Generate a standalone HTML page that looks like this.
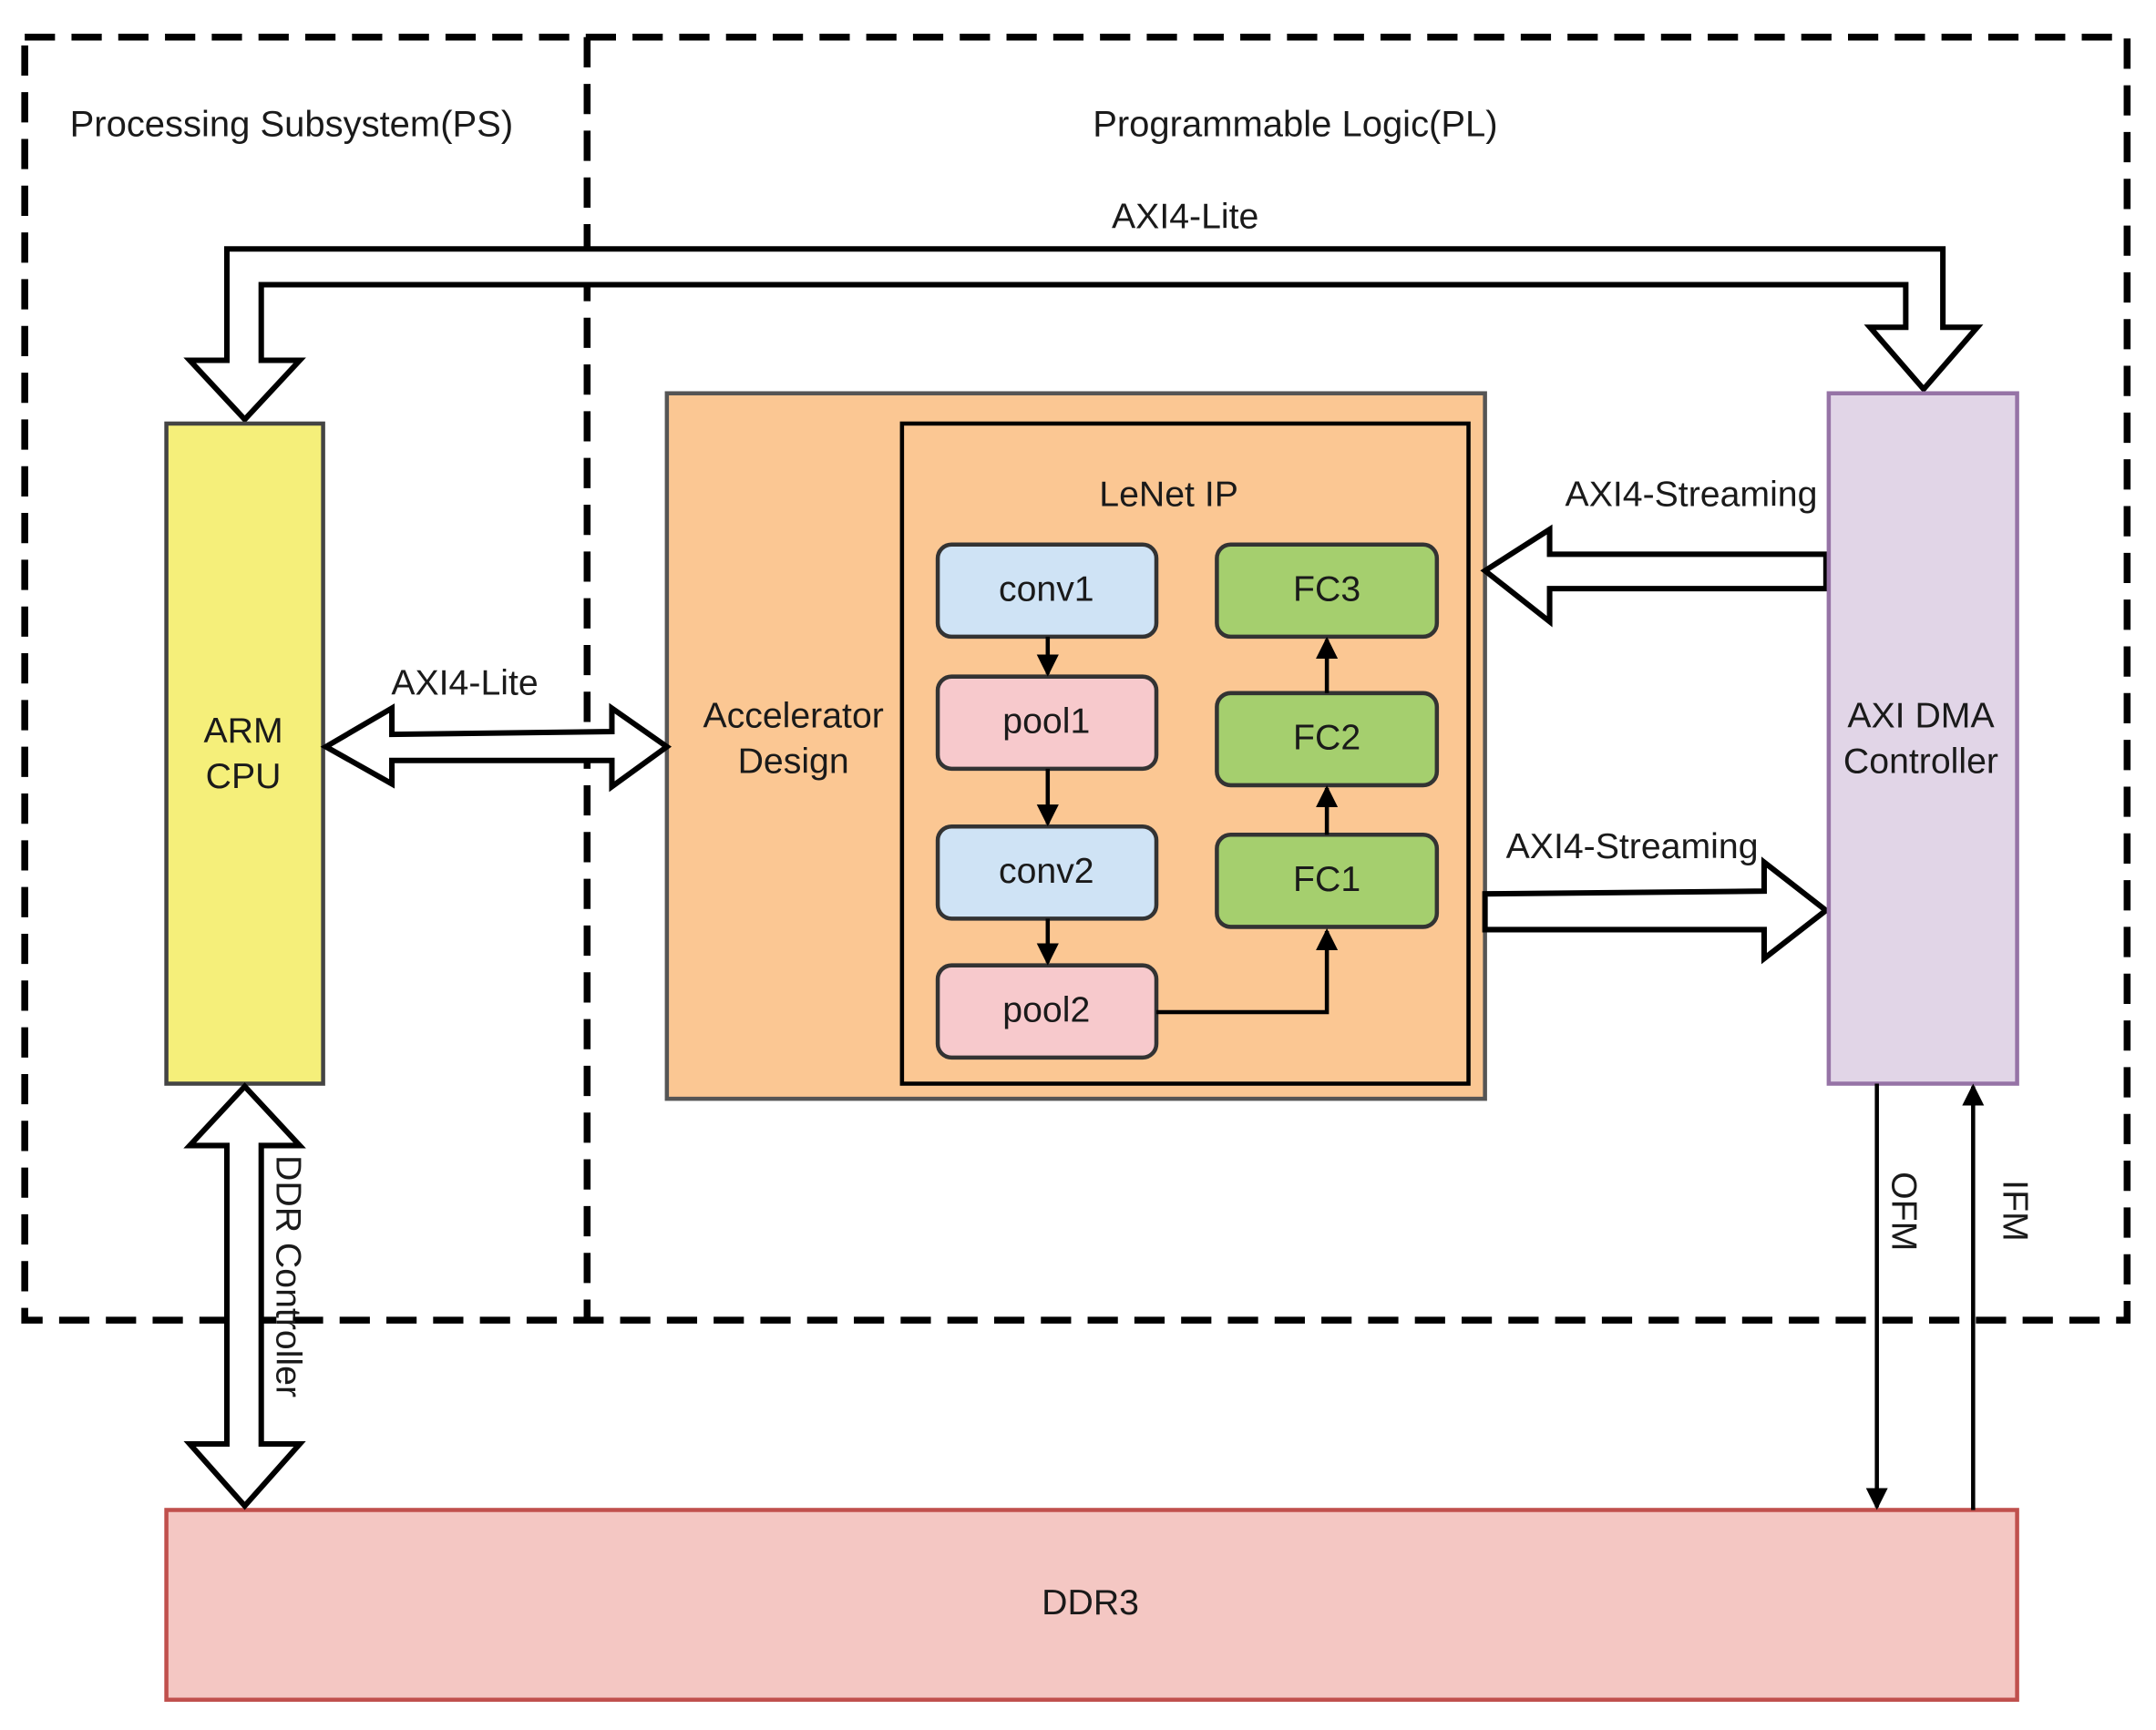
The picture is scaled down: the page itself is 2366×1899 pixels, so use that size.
<!DOCTYPE html>
<html><head><meta charset="utf-8"><style>
html,body{margin:0;padding:0;background:#fff;}
svg{display:block;}
text{font-family:"Liberation Sans",sans-serif;fill:#1a1a1a;}
</style></head><body>
<svg width="2366" height="1899" viewBox="0 0 1568 1258" preserveAspectRatio="none" xmlns="http://www.w3.org/2000/svg">
<defs>
<marker id="ah2" markerWidth="16" markerHeight="16" refX="14" refY="8" orient="auto" markerUnits="userSpaceOnUse">
<path d="M0,0 L16,8 L0,16 Z" fill="#000"/>
</marker>
</defs>
<rect x="18" y="27" width="1529" height="933" fill="none" stroke="#000" stroke-width="5" stroke-dasharray="22,12"/>
<line x1="427" y1="27" x2="427" y2="960" stroke="#000" stroke-width="5" stroke-dasharray="22,12"/>
<text x="212" y="99" font-size="26.5" text-anchor="middle">Processing Subsystem(PS)</text>
<text x="942" y="99" font-size="26.5" text-anchor="middle">Programmable Logic(PL)</text>
<text x="862" y="166" font-size="26" text-anchor="middle">AXI4-Lite</text>
<polygon points="165,262 138,262 178,305 218,262 190,262 190,207 1386,207 1386,238 1360,238 1399,283 1438,238 1413,238 1413,181 165,181" fill="#fff" stroke="#000" stroke-width="4"/>
<rect x="121" y="308" width="114" height="480" fill="#f5ef7a" stroke="#444" stroke-width="3"/>
<text x="177" y="540" font-size="26" text-anchor="middle">ARM</text>
<text x="177" y="573" font-size="26" text-anchor="middle">CPU</text>
<rect x="485" y="286" width="595" height="513" fill="#fbc793" stroke="#555" stroke-width="3"/>
<rect x="656" y="308" width="412" height="480" fill="none" stroke="#000" stroke-width="3"/>
<text x="850" y="368" font-size="26" text-anchor="middle">LeNet IP</text>
<text x="577" y="529" font-size="26" text-anchor="middle">Accelerator</text>
<text x="577" y="562" font-size="26" text-anchor="middle">Design</text>
<g stroke="#333" stroke-width="3">
<rect x="682" y="396" width="159" height="67" rx="10" fill="#cfe3f5"/>
<rect x="682" y="492" width="159" height="67" rx="10" fill="#f7c9cc"/>
<rect x="682" y="601" width="159" height="67" rx="10" fill="#cfe3f5"/>
<rect x="682" y="702" width="159" height="67" rx="10" fill="#f7c9cc"/>
<rect x="885" y="396" width="160" height="67" rx="10" fill="#a5cf6e"/>
<rect x="885" y="504" width="160" height="67" rx="10" fill="#a5cf6e"/>
<rect x="885" y="607" width="160" height="67" rx="10" fill="#a5cf6e"/>
</g>
<g font-size="26" text-anchor="middle">
<text x="761" y="437">conv1</text>
<text x="761" y="533">pool1</text>
<text x="761" y="642">conv2</text>
<text x="761" y="743">pool2</text>
<text x="965" y="437">FC3</text>
<text x="965" y="545">FC2</text>
<text x="965" y="648">FC1</text>
</g>
<g stroke="#000" stroke-width="3" fill="none">
<line x1="762" y1="463" x2="762" y2="490" marker-end="url(#ah2)"/>
<line x1="762" y1="559" x2="762" y2="599" marker-end="url(#ah2)"/>
<line x1="762" y1="668" x2="762" y2="700" marker-end="url(#ah2)"/>
<polyline points="841,736 965,736 965,677" marker-end="url(#ah2)"/>
<line x1="965" y1="607" x2="965" y2="573" marker-end="url(#ah2)"/>
<line x1="965" y1="504" x2="965" y2="465" marker-end="url(#ah2)"/>
</g>
<polygon points="237,543 285,515 285,534 445,532 445,515 485,543 445,572 445,553 285,553 285,570" fill="#fff" stroke="#000" stroke-width="4"/>
<text x="338" y="505" font-size="26" text-anchor="middle">AXI4-Lite</text>
<polygon points="1328,403 1127,403 1127,385 1080,415 1127,452 1127,428 1328,428" fill="#fff" stroke="#000" stroke-width="4"/>
<text x="1230" y="368" font-size="26" text-anchor="middle">AXI4-Streaming</text>
<polygon points="1080,650 1283,648 1283,627 1328,662 1283,697 1283,676 1080,676" fill="#fff" stroke="#000" stroke-width="4"/>
<text x="1187" y="624" font-size="26" text-anchor="middle">AXI4-Streaming</text>
<rect x="1330" y="286" width="137" height="502" fill="#e1d5e7" stroke="#9673a6" stroke-width="3"/>
<text x="1397" y="529" font-size="26" text-anchor="middle">AXI DMA</text>
<text x="1397" y="562" font-size="26" text-anchor="middle">Controller</text>
<rect x="121" y="1098" width="1346" height="138" fill="#f4c7c3" stroke="#c0504d" stroke-width="3"/>
<text x="793" y="1174" font-size="26" text-anchor="middle">DDR3</text>
<polygon points="178,790 218,833 190,833 190,1050 218,1050 178,1095 138,1050 165,1050 165,833 138,833" fill="#fff" stroke="#000" stroke-width="4"/>
<text transform="translate(201,840) rotate(90)" font-size="26">DDR Controller</text>
<line x1="1365" y1="788" x2="1365" y2="1096" stroke="#000" stroke-width="3" marker-end="url(#ah2)"/>
<line x1="1435" y1="1098" x2="1435" y2="790" stroke="#000" stroke-width="3" marker-end="url(#ah2)"/>
<text transform="translate(1376,852) rotate(90)" font-size="26">OFM</text>
<text transform="translate(1457,858) rotate(90)" font-size="26">IFM</text>
</svg>
</body></html>
